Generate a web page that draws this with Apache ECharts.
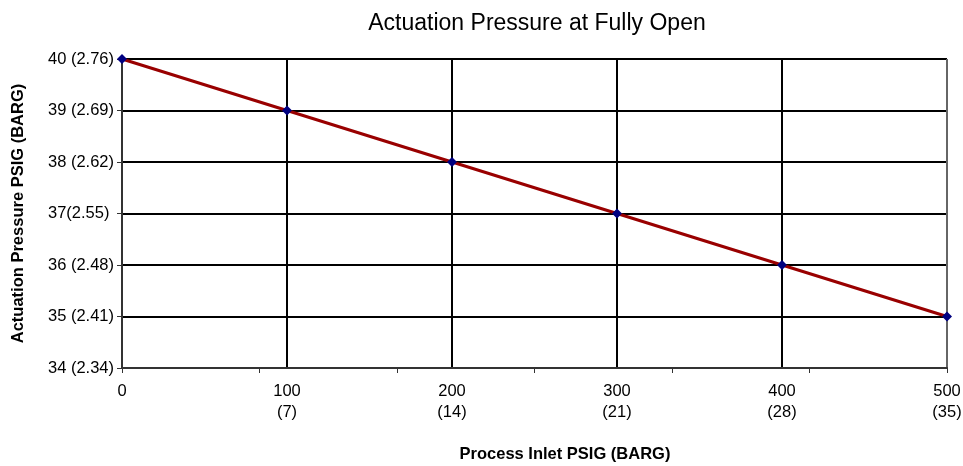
<!DOCTYPE html>
<html>
<head>
<meta charset="utf-8">
<script src="https://cdn.jsdelivr.net/npm/echarts@6/dist/echarts.min.js"></script>
<style>html,body{margin:0;padding:0;background:#fff}#c{width:963px;height:466px}</style>
</head>
<body>
<div id="c"></div>
<script>
const xValues = [0, 100, 200, 300, 400, 500];
const yValues = [40, 39, 38, 37, 36, 35];
const xTickValues = [0, 100, 200, 300, 400, 500];
const xTickLabels = ['0', '100\n(7)', '200\n(14)', '300\n(21)', '400\n(28)', '500\n(35)'];
const yTickValues = [34, 35, 36, 37, 38, 39, 40];
const yTickLabels = ['34 (2.34)', '35 (2.41)', '36 (2.48)', '37(2.55) ', '38 (2.62)', '39 (2.69)', '40 (2.76)'];

const font = 'Liberation Sans, Arial, sans-serif';
const chart = echarts.init(document.getElementById('c'), null, {renderer: 'canvas'});
chart.setOption({
  animation: false,
  backgroundColor: '#fff',
  title: [{
    text: 'Actuation Pressure at Fully Open',
    left: 532, top: 7, textAlign: 'center',
    textStyle: {fontFamily: font, fontSize: 23, fontWeight: 'normal', color: '#000'}
  }, {
    text: 'Process Inlet PSIG (BARG)',
    left: 560, top: 441, textAlign: 'center',
    textStyle: {fontFamily: font, fontSize: 16.5, fontWeight: 'bold', color: '#000'}
  }],
  grid: {left: 122, right: 16, top: 59, bottom: 98, outerBoundsMode: 'none', containLabel: false},
  xAxis: [{
    type: 'value', min: 0, max: 500, interval: 100,
    axisLine: {show: true, onZero: false, lineStyle: {color: '#333', width: 2}},
    axisTick: {show: false},
    axisLabel: {
      fontFamily: font, fontSize: 16.5, color: '#000', margin: 13, lineHeight: 21,
      formatter: v => xTickLabels[xTickValues.indexOf(v)] ?? ''
    },
    splitLine: {show: true, lineStyle: {color: ['#333', '#000', '#000', '#000', '#000', '#666'], width: 2}}
  }, {
    type: 'value', min: 0, max: 500, interval: 500 / 6, position: 'bottom',
    axisLine: {show: false, onZero: false},
    axisTick: {show: true, length: 5, lineStyle: {color: '#333', width: 1}},
    axisLabel: {show: false},
    splitLine: {show: false}
  }],
  yAxis: {
    type: 'value', min: 34, max: 40, interval: 1,
    axisLine: {show: true, onZero: false, lineStyle: {color: '#333', width: 1}},
    axisTick: {show: true, length: 5, lineStyle: {color: '#333'}},
    axisLabel: {
      fontFamily: font, fontSize: 16.5, color: '#000', margin: 8,
      formatter: v => yTickLabels[yTickValues.indexOf(v)] ?? ''
    },
    splitLine: {show: true, lineStyle: {color: '#000', width: 2}},
    name: 'Actuation Pressure PSIG (BARG)', nameLocation: 'middle', nameGap: 95,
    nameTextStyle: {fontFamily: font, fontSize: 16.5, fontWeight: 'bold', color: '#000'}
  },
  series: [{
    type: 'line',
    xAxisIndex: 0,
    data: xValues.map((x, i) => [x, yValues[i]]),
    symbol: 'diamond', symbolSize: 10,
    itemStyle: {color: '#000080'},
    lineStyle: {color: '#990000', width: 3},
    clip: false
  }]
});
</script>
</body>
</html>
